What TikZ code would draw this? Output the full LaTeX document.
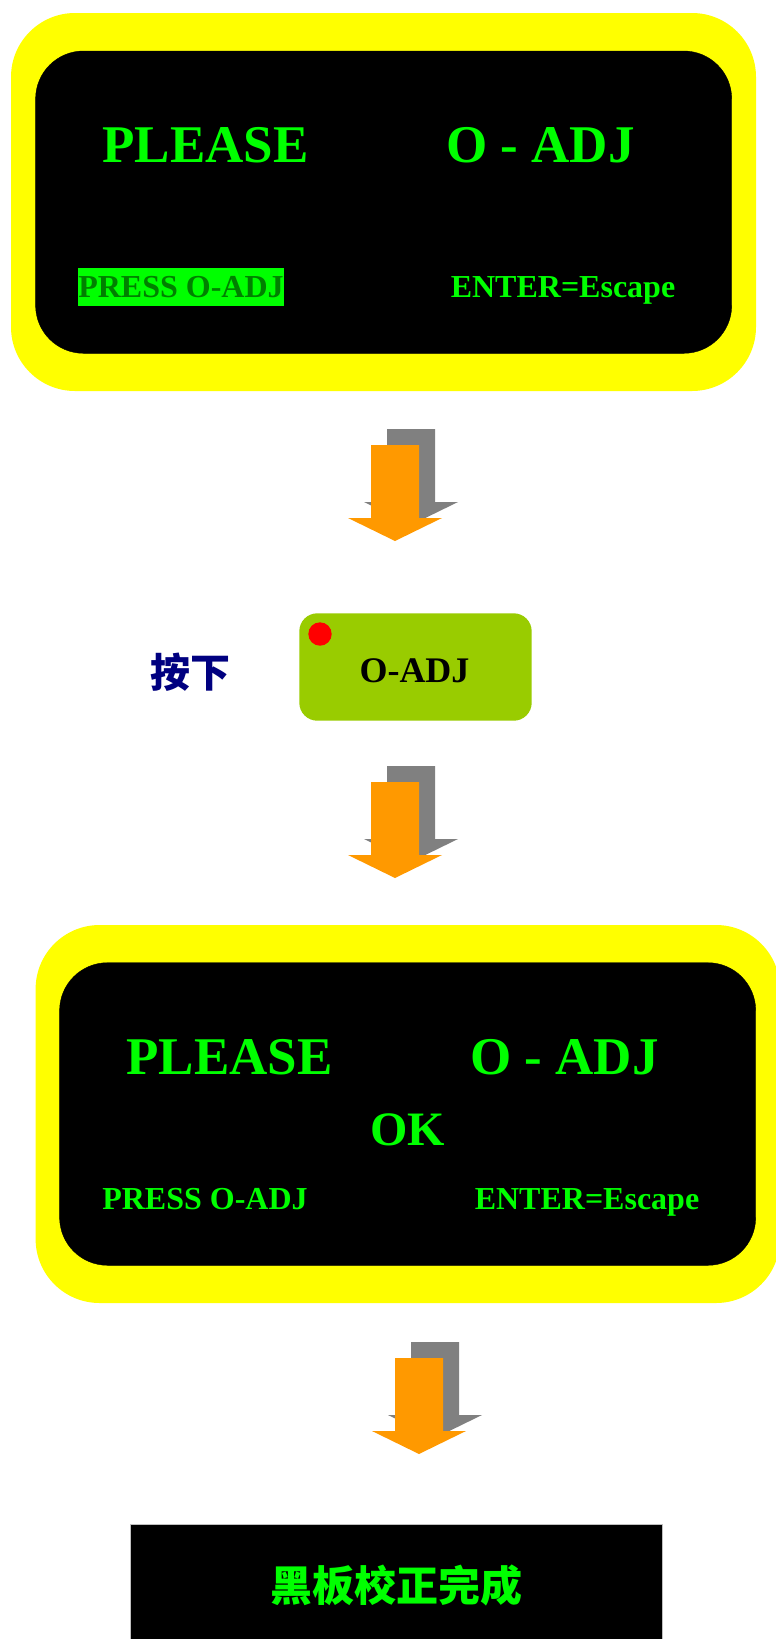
\documentclass[tikz,border=0pt]{standalone}
\usepackage{fontspec}
\setmainfont{Liberation Serif}
\newfontfamily\cjk{Noto Sans CJK SC}
\definecolor{lcdgreen}{RGB}{0,255,0}
\definecolor{darkgr}{RGB}{0,128,0}
\definecolor{lcdyellow}{RGB}{255,255,0}
\definecolor{arrorange}{RGB}{255,153,0}
\definecolor{arrgray}{RGB}{128,128,128}
\definecolor{btngreen}{RGB}{153,204,0}
\definecolor{navyblue}{RGB}{0,0,128}
\tikzset{
  frame/.style={fill=lcdyellow, draw=none, rounded corners=64pt},
  screen/.style={fill=black, draw=black, rounded corners=48pt},
  bigtxt/.style={text=lcdgreen, font=\fontsize{53}{60}\selectfont\bfseries, inner sep=0pt, anchor=base},
  smalltxt/.style={text=lcdgreen, font=\fontsize{32}{38}\selectfont\bfseries, inner sep=0pt, anchor=base},
  shadowarrow/.style={fill=arrgray, draw=none},
  mainarrow/.style={fill=arrorange, draw=none},
}
\newcommand{\downarrowshape}[3]{% #1 x-shift, #2 y-shift, #3 style
  \fill[#3] ($(371,445)+(#1,#2)$) -- ($(419,445)+(#1,#2)$) -- ($(419,518)+(#1,#2)$) -- ($(442,518)+(#1,#2)$)
     -- ($(395,541)+(#1,#2)$) -- ($(348,518)+(#1,#2)$) -- ($(371,518)+(#1,#2)$) -- cycle;}
\usetikzlibrary{calc}
\begin{document}
\begin{tikzpicture}[x=1pt,y=-1pt]
\useasboundingbox[fill=white] (0,0) rectangle (776,1639);

% ---- screen 1 ----
\fill[frame] (11,13) rectangle (756,391);
\filldraw[screen] (35.6,51) rectangle (731.7,353.3);
\node[bigtxt] (p1) at (205.5,162.7) {PLEASE};
\node[bigtxt] (o1) at (540.4,162.7) {O - ADJ};
\fill[lcdgreen] (78.2,268.3) rectangle (284,305.7);
\node[smalltxt, text=darkgr] (pr1) at (181,297.7) {PRESS O-ADJ};
\node[smalltxt] (en1) at (563,297.7) {ENTER=Escape};

% ---- arrow 1 ----
\downarrowshape{16}{-16}{shadowarrow}
\downarrowshape{0}{0}{mainarrow}

% ---- button ----
\node[text=navyblue, font=\cjk\bfseries\fontsize{40}{44}\selectfont, inner sep=0pt] (press) at (190,672) {按下};
\fill[btngreen, rounded corners=18pt] (299.3,613.3) rectangle (531.7,720.7);
\fill[red] (320,634) circle (11.7);
\node[text=black, font=\fontsize{36}{40}\selectfont\bfseries, inner sep=0pt, anchor=base] (btn) at (414.5,682.7) {O-ADJ};

% ---- arrow 2 ----
\downarrowshape{16}{321}{shadowarrow}
\downarrowshape{0}{337}{mainarrow}

% ---- screen 2 ----
\fill[frame] (35.6,925) rectangle (780,1303);
\filldraw[screen] (59.6,962.7) rectangle (755.7,1265.3);
\node[bigtxt] (p2) at (229.5,1074.7) {PLEASE};
\node[bigtxt] (o2) at (564.4,1074.7) {O - ADJ};
\node[bigtxt, font=\fontsize{48}{54}\selectfont\bfseries] (ok) at (407.7,1145) {OK};
\node[smalltxt] (pr2) at (205,1209.7) {PRESS O-ADJ};
\node[smalltxt] (en2) at (587,1209.7) {ENTER=Escape};

% ---- arrow 3 ----
\downarrowshape{40}{897}{shadowarrow}
\downarrowshape{24}{913}{mainarrow}

% ---- final box ----
\filldraw[fill=black, draw=black!25, line width=0.8pt] (130,1524.3) rectangle (662.7,1645);
\node[text=lcdgreen, font=\cjk\bfseries\fontsize{42}{46}\selectfont, inner sep=0pt] (done) at (396.5,1585) {黑板校正完成};
\end{tikzpicture}
\end{document}
